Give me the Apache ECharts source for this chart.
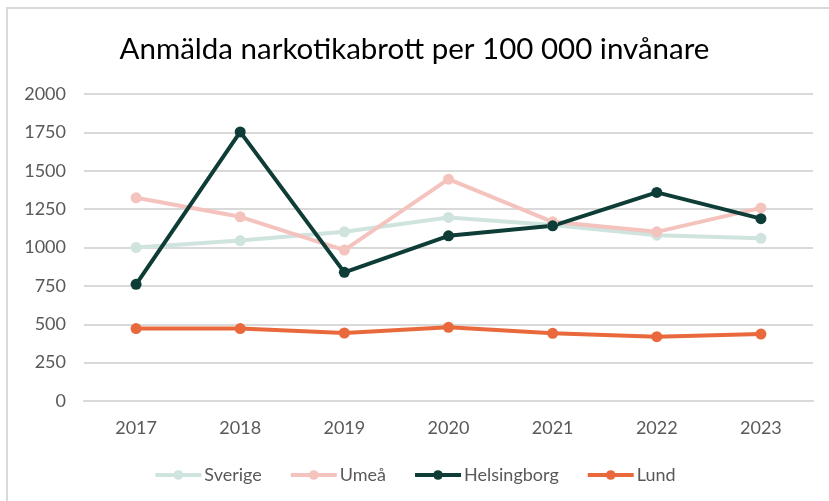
<!DOCTYPE html>
<html><head><meta charset="utf-8">
<script src="https://cdn.jsdelivr.net/npm/echarts@6/dist/echarts.min.js"></script>
<style>html,body{margin:0;padding:0;background:#fff}#c{width:829px;height:501px}</style>
</head><body><div id="c"></div>
<script>
const years = ['2017','2018','2019','2020','2021','2022','2023'];
const sverige = [1000, 1045, 1102, 1196, 1146, 1080, 1060];
const umea = [1324, 1200, 983, 1445, 1167, 1102, 1258];
const helsingborg = [760, 1753, 838, 1076, 1141, 1359, 1188];
const lund = [472, 472, 443, 480, 441, 419, 436];
const yTicks = [0, 250, 500, 750, 1000, 1250, 1500, 1750, 2000];

const chart = echarts.init(document.getElementById('c'));
const font = 'Lato, "Open Sans", sans-serif';
function s(name, data, color) {
  return {name, type:'line', data, symbol:'circle', symbolSize:11,
    lineStyle:{width:4, color}, itemStyle:{color}, emphasis:{disabled:true}};
}
chart.setOption({
  animation:false,
  graphic:[{type:'rect', shape:{x:7, y:8, width:900, height:600}, style:{fill:'none', stroke:'#d9d9d9', lineWidth:2}, silent:true}],
  title:{text:'Anmälda narkotikabrott per 100 000 invånare', left:'center', top:29,
    textStyle:{fontFamily:font, fontSize:29.5, fontWeight:'normal', color:'#000'}},
  legend:{bottom:12, left:'center', itemWidth:46, itemHeight:12, itemGap:27,
    lineStyle:{width:4},
    textStyle:{fontFamily:font, fontSize:18, color:'#595959', padding:[0,0,0,-2]},
    data:['Sverige','Umeå','Helsingborg','Lund']},
  grid:{left:84, right:16, top:94, bottom:100},
  xAxis:{type:'category', data:years, boundaryGap:true,
    axisLine:{lineStyle:{color:'#d9d9d9', width:2}}, axisTick:{show:false},
    axisLabel:{fontFamily:font, fontSize:18, color:'#595959', margin:18}},
  yAxis:{type:'value', min:0, max:2000, interval:250,
    axisLine:{show:false}, axisTick:{show:false},
    splitLine:{lineStyle:{color:'#d9d9d9', width:2}},
    axisLabel:{fontFamily:font, fontSize:18, color:'#595959', margin:18,
      formatter:v=>yTicks.includes(v)?String(v):''}},
  series:[
    s('Sverige', sverige, '#cfe3df'),
    s('Umeå', umea, '#f5c3be'),
    s('Helsingborg', helsingborg, '#0e3d37'),
    s('Lund', lund, '#e9693c')
  ]
});
</script></body></html>
